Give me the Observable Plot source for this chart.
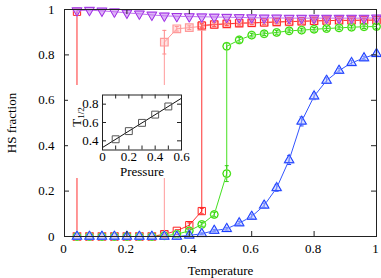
<!DOCTYPE html>
<html><head><meta charset="utf-8">
<script src="https://cdn.jsdelivr.net/npm/d3@7"></script>
<script src="https://cdn.jsdelivr.net/npm/@observablehq/plot@0.6"></script>
<style>
body{margin:0;background:#fff;}
#wrap{position:relative;width:381px;height:278px;}
#inset{position:absolute;left:68px;top:85px;}
svg{display:block;overflow:visible;}
</style></head><body><div id="wrap"><div id="main"></div><div id="inset"></div></div>
<script>
// ---- data ----
const temps = [0.04,0.08,0.12,0.16,0.20,0.24,0.28,0.32,0.36,0.40,0.44,0.48,0.52,0.56,0.60,0.64,0.68,0.72,0.76,0.80,0.84,0.88,0.92,0.96,1.00];
const purpleY = [0.995,0.997,0.994,0.990,0.985,0.981,0.976,0.972,0.970,0.969,0.968,0.967,0.966,0.965,0.964,0.963,0.963,0.962,0.962,0.962,0.962,0.962,0.962,0.962,0.963];
const blueY = [0,0,0,0,0,0,0,0,0,0.005,0.012,0.026,0.034,0.059,0.088,0.137,0.214,0.337,0.507,0.618,0.687,0.731,0.765,0.786,0.805];
const blueErr = [0,0,0,0,0,0,0,0,0,0,0.004,0.005,0.006,0.008,0.01,0.01,0.015,0.02,0.02,0.015,0.012,0.01,0.01,0.008,0.008];

const redDarkX = [0.04,0.04,0.08,0.12,0.16,0.20,0.24,0.28,0.32,0.36,0.40,0.44,0.44,0.48,0.52,0.56,0.60,0.64,0.68,0.72,0.76,0.80,0.84,0.88,0.92,0.96,1.00];
const redDarkY = [0.99,0,0,0,0,0,0,0,0.01,0.025,0.05,0.112,0.93,0.934,0.937,0.94,0.941,0.943,0.945,0.947,0.948,0.95,0.951,0.952,0.952,0.953,0.953];
const redDarkErr = [0,0,0,0,0,0,0,0,0,0.005,0.01,0.012,0.008,0.008,0.008,0.008,0.008,0.008,0.008,0.008,0.008,0.008,0.008,0.008,0.008,0.008,0.008];

const redLightX = [0.04,0.08,0.12,0.16,0.20,0.24,0.28,0.32,0.32,0.36,0.40,0.44,0.48,0.52,0.56,0.60,0.64,0.68,0.72,0.76,0.80,0.84,0.88,0.92,0.96,1.00];
const redLightY = [0,0,0,0,0,0,0,0.008,0.856,0.915,0.92,0.926,0.933,0.936,0.939,0.941,0.943,0.945,0.946,0.948,0.95,0.951,0.952,0.952,0.953,0.953];
const redLightErr = [0,0,0,0,0,0,0,0,0.052,0.01,0.008,0.008,0.008,0.008,0.008,0.008,0.008,0.008,0.008,0.008,0.008,0.008,0.008,0.008,0.008,0.008];

const greenX = [0.04,0.08,0.12,0.16,0.20,0.24,0.28,0.32,0.36,0.40,0.44,0.48,0.52,0.52,0.56,0.60,0.64,0.68,0.72,0.76,0.80,0.84,0.88,0.92,0.96,1.00];
const greenY = [0,0,0,0,0,0,0,0.003,0.01,0.025,0.053,0.097,0.277,0.838,0.866,0.887,0.893,0.899,0.906,0.909,0.913,0.916,0.919,0.922,0.924,0.925];
const greenErr = [0,0,0,0,0,0,0,0,0,0.005,0.008,0.01,0.035,0.015,0.01,0.008,0.008,0.008,0.008,0.008,0.008,0.008,0.008,0.008,0.008,0.008];

const xTicks = [0,0.2,0.4,0.6,0.8,1];
const yTicks = [0,0.2,0.4,0.6,0.8,1];

// inset
const pressure = [0.1,0.2,0.3,0.4,0.5];
const tHalf = [0.417,0.506,0.596,0.686,0.775];
const fitP = [0,0.6];
const fitT = [0.327,0.865];
const pTicks = [0,0.2,0.4,0.6];
const pTickMarks = [0.1,0.2,0.3,0.4,0.5];
const tTicks = [0.4,0.6,0.8];

// ---- build ----
const zip = (xs, ys, es) => xs.map((x,i)=>({x, y: ys[i], e: es ? es[i] : 0}));
const purple = zip(temps, purpleY);
const blue = zip(temps, blueY, blueErr);
const redDark = zip(redDarkX, redDarkY, redDarkErr);
const redLight = zip(redLightX, redLightY, redLightErr);
const green = zip(greenX, greenY, greenErr);

const cap = {draw(ctx, size){ const r = Math.sqrt(size/Math.PI); ctx.moveTo(-r,0); ctx.lineTo(r,0); }};
function errMarks(data, color){
  const d = data.filter(p=>p.e>0);
  return [
    Plot.ruleX(d, {x:"x", y1: p=>p.y-p.e, y2: p=>p.y+p.e, stroke: color, strokeWidth: 1}),
    Plot.dot(d, {x:"x", y: p=>p.y-p.e, symbol: cap, r: 2, stroke: color, strokeWidth: 1}),
    Plot.dot(d, {x:"x", y: p=>p.y+p.e, symbol: cap, r: 2, stroke: color, strokeWidth: 1})
  ];
}

const PW = 312, PH = 227;
const font = '"Liberation Serif", "Times New Roman", serif';
const main = Plot.plot({
  width: 381, height: 278,
  marginLeft: 64, marginRight: 5, marginTop: 9, marginBottom: 42,
  style: {fontFamily: font, fontSize: "13px", background: "transparent", color: "#000", overflow: "visible"},
  x: {domain: [0,1]},
  y: {domain: [0,1]},
  marks: [
    Plot.line(redLight, {x:"x", y:"y", stroke:"#ff9a9a", strokeWidth:1}),
    Plot.line(redDark, {x:"x", y:"y", stroke:"#ff3030", strokeWidth:1}),
    Plot.line(green, {x:"x", y:"y", stroke:"#44e020", strokeWidth:1}),
    Plot.line(purple, {x:"x", y:"y", stroke:"#c070f0", strokeWidth:1}),
    Plot.line(blue, {x:"x", y:"y", stroke:"#3355ff", strokeWidth:1}),
    ...errMarks(redLight, "#ff8a8a"),
    ...errMarks(redDark, "#ff2020"),
    Plot.dot(redLight, {x:"x", y:"y", symbol:"square", r:4.3, stroke:"#ff9a9a", fill:"#ffb0b0", fillOpacity:0.35, strokeWidth:1.2}),
    Plot.dot(redDark, {x:"x", y:"y", symbol:"square", r:4.1, stroke:"#ff2020", fill:"none", strokeWidth:1}),
    ...errMarks(green, "#33d010"),
    Plot.dot(green, {x:"x", y:"y", symbol:"circle", r:3.8, stroke:"#a8f090", fill:"none", strokeWidth:1.5}),
    Plot.dot(green, {x:"x", y:"y", symbol:"circle", r:3.8, stroke:"#33dd00", fill:"none", strokeWidth:1}),
    ...errMarks(blue, "#2244ff"),
    Plot.dot(blue, {x:"x", y:"y", symbol:"triangle", r:3.5, stroke:"#a0b0ff", fill:"#b8c4ff", fillOpacity:0.5, strokeWidth:1.4}),
    Plot.dot(blue, {x:"x", y:"y", symbol:"triangle", r:3.5, stroke:"#1a3cff", fill:"none", strokeWidth:1}),
    Plot.dot(purple, {x:"x", y:"y", symbol:"triangle", rotate:180, r:3.6, stroke:"#d8a8ff", fill:"#c070f0", fillOpacity:0.5, strokeWidth:1.2}),
    Plot.dot(purple, {x:"x", y:"y", symbol:"triangle", rotate:180, r:3.6, stroke:"#a030e0", fill:"none", strokeWidth:1}),
    Plot.frame({stroke:"#222", strokeWidth:1}),
    Plot.tickX(xTicks, {x: d=>d, insetTop: PH-5, stroke:"#222"}),
    Plot.tickX(xTicks, {x: d=>d, insetBottom: PH-5, stroke:"#222"}),
    Plot.tickY(yTicks, {y: d=>d, insetRight: PW-5, stroke:"#222"}),
    Plot.tickY(yTicks, {y: d=>d, insetLeft: PW-5, stroke:"#222"}),
    Plot.axisX(xTicks, {tickSize: 0, tickPadding: 7, dx: -1, tickFormat: d => String(d), label: "Temperature", labelAnchor: "center", labelArrow: "none", labelOffset: 38}),
    Plot.axisY(yTicks, {tickSize: 0, tickPadding: 10, tickFormat: d => String(d), label: "HS fraction", labelAnchor: "center", labelArrow: "none", labelOffset: 58})
  ]
});
document.getElementById("main").appendChild(main);

const IW = 79, IH = 55;
const inset = Plot.plot({
  width: 122, height: 93,
  marginLeft: 34, marginRight: 9, marginTop: 9.5, marginBottom: 28.5,
  style: {fontFamily: font, fontSize: "13px", background: "#fff", color: "#000"},
  x: {domain: [0,0.6]},
  y: {domain: [0.3,0.9]},
  marks: [
    Plot.line(fitP.map((p,i)=>({p, t: fitT[i]})), {x:"p", y:"t", stroke:"#111", strokeWidth:1}),
    Plot.dot(pressure.map((p,i)=>({p, t: tHalf[i]})), {x:"p", y:"t", symbol:"square", r:3.9, stroke:"#555", fill:"none", strokeWidth:1}),
    Plot.frame({stroke:"#222", strokeWidth:1}),
    Plot.tickX(pTickMarks, {x: d=>d, insetTop: IH-4, stroke:"#222"}),
    Plot.tickX(pTickMarks, {x: d=>d, insetBottom: IH-4, stroke:"#222"}),
    Plot.tickY(tTicks, {y: d=>d, insetRight: IW-4, stroke:"#222"}),
    Plot.tickY(tTicks, {y: d=>d, insetLeft: IW-4, stroke:"#222"}),
    Plot.axisX(pTicks, {tickSize: 0, tickPadding: 2, tickFormat: d => String(d), label: "Pressure", labelAnchor: "center", labelArrow: "none", labelOffset: 26}),
    Plot.axisY(tTicks, {tickSize: 0, tickPadding: 4, tickFormat: d => String(d), label: null})
  ]
});
document.getElementById("inset").appendChild(inset);
// rotated T_1/2 label
d3.select(inset).append("text")
  .attr("transform", "translate(13,32) rotate(-90)")
  .attr("text-anchor", "middle")
  .attr("font-family", font).attr("font-size", 13).attr("fill", "#000")
  .call(t => { t.append("tspan").text("T"); t.append("tspan").attr("font-size", 9).attr("dy", 3).text("1/2"); });
</script>
</body></html>
